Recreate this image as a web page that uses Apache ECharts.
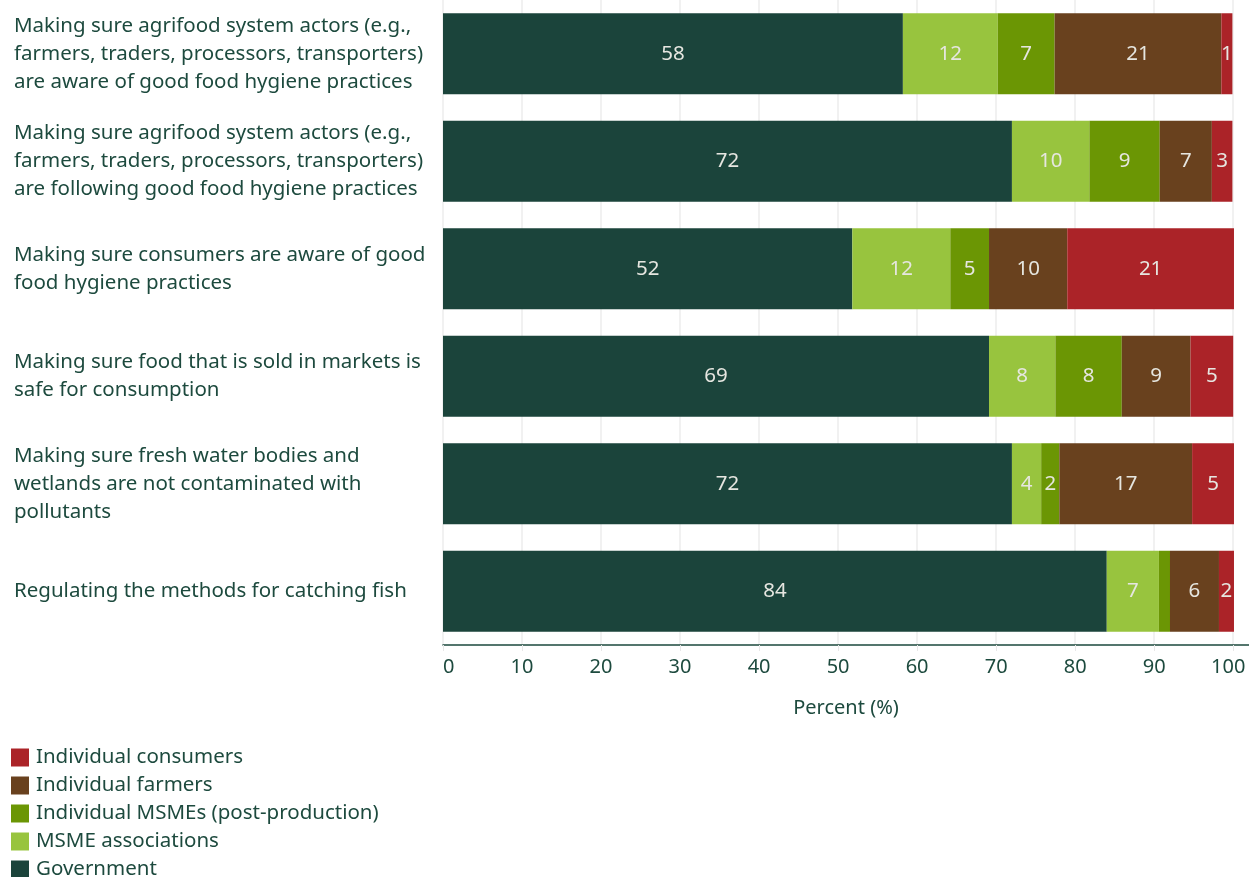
<!DOCTYPE html>
<html>
<head>
<meta charset="utf-8">
<script src="https://cdn.jsdelivr.net/npm/echarts@6/dist/echarts.min.js"></script>
<style>
  html, body { margin: 0; padding: 0; background: #ffffff; }
  #chart { width: 1249px; height: 877px; }
</style>
</head>
<body>
<div id="chart"></div>
<script>
// Responsibility areas (top to bottom)
const categories = [
  'Making sure agrifood system actors (e.g.,\nfarmers, traders, processors, transporters)\nare aware of good food hygiene practices',
  'Making sure agrifood system actors (e.g.,\nfarmers, traders, processors, transporters)\nare following good food hygiene practices',
  'Making sure consumers are aware of good\nfood hygiene practices',
  'Making sure food that is sold in markets is\nsafe for consumption',
  'Making sure fresh water bodies and\nwetlands are not contaminated with\npollutants',
  'Regulating the methods for catching fish'
];

// Share of respondents (%) naming each actor as responsible
const government      = [58.2, 72.0, 51.8, 69.1, 72.0, 84.0];
const msmeAssociations = [12.0, 9.8, 12.4, 8.4, 3.7, 6.6];
const individualMsmes = [7.2, 8.9, 4.9, 8.4, 2.3, 1.4];
const individualFarmers = [21.1, 6.6, 9.9, 8.7, 16.8, 6.2];
const individualConsumers = [1.4, 2.6, 21.1, 5.4, 5.3, 1.9];

// Segments too narrow to carry a value label: [series index, category index]
const unlabeled = [[2, 5]];

const xTicks = { min: 0, max: 102, interval: 10, last: 100 };

const seriesDefs = [
  { name: 'Government', data: government, color: '#1b443b' },
  { name: 'MSME associations', data: msmeAssociations, color: '#98c43e' },
  { name: 'Individual MSMEs (post-production)', data: individualMsmes, color: '#6b9604' },
  { name: 'Individual farmers', data: individualFarmers, color: '#69411e' },
  { name: 'Individual consumers', data: individualConsumers, color: '#ab2328' }
];

const legendOrder = ['Individual consumers', 'Individual farmers', 'Individual MSMEs (post-production)', 'MSME associations', 'Government'];

const textColor = '#1d4a3e';
const font = 'Noto Sans';

const chart = echarts.init(document.getElementById('chart'), null, { renderer: 'canvas' });

const series = seriesDefs.map((s, si) => ({
  name: s.name,
  type: 'bar',
  stack: 'total',
  barWidth: 81,
  itemStyle: { color: s.color },
  label: {
    show: true,
    position: 'inside',
    color: '#e6e6e0',
    fontFamily: font,
    fontSize: 20.5,
    formatter: p => String(Math.round(p.value))
  },
  emphasis: { disabled: true },
  data: s.data.map((v, ci) =>
    unlabeled.some(u => u[0] === si && u[1] === ci)
      ? { value: v, label: { show: false } }
      : v)
}));

chart.setOption({
  animation: false,
  textStyle: { fontFamily: font },
  grid: { left: 443, right: 0, top: 0, bottom: 232, containLabel: false, outerBoundsMode: 'none' },
  xAxis: {
    type: 'value',
    min: xTicks.min,
    max: xTicks.max,
    interval: xTicks.interval,
    name: 'Percent (%)',
    nameLocation: 'middle',
    nameGap: 53,
    nameTextStyle: { color: textColor, fontSize: 20, fontFamily: font },
    axisLine: { show: true, lineStyle: { color: '#1d4a3e', width: 1.5 } },
    axisTick: { show: true, length: 6, lineStyle: { color: '#e8e8e8' } },
    axisLabel: {
      color: textColor,
      fontSize: 20,
      fontFamily: font,
      margin: 12,
      showMaxLabel: false,
      alignMinLabel: 'left',
      // keep the last label inside the canvas edge
      formatter: v => (v === xTicks.last ? '{edge|' + v + '}' : String(v)),
      rich: { edge: { fontSize: 20, fontFamily: font, color: textColor, padding: [0, 10, 0, 0] } }
    },
    splitLine: { show: true, showMaxLine: false, lineStyle: { color: '#ececec', width: 1.5 } }
  },
  yAxis: {
    type: 'category',
    inverse: true,
    data: categories,
    axisLine: { show: false },
    axisTick: { show: false },
    axisLabel: {
      color: textColor,
      fontSize: 20.5,
      fontFamily: font,
      align: 'left',
      margin: 429,
      lineHeight: 28
    }
  },
  legend: {
    orient: 'vertical',
    left: 11,
    top: 747,
    height: 200,
    padding: 0,
    itemWidth: 18,
    itemHeight: 18,
    itemGap: 7,
    icon: 'rect',
    data: legendOrder,
    textStyle: { color: textColor, fontSize: 20.5, fontFamily: font, padding: [0, 0, 0, 2] },
    selectedMode: false
  },
  series: series
});
</script>
</body>
</html>
